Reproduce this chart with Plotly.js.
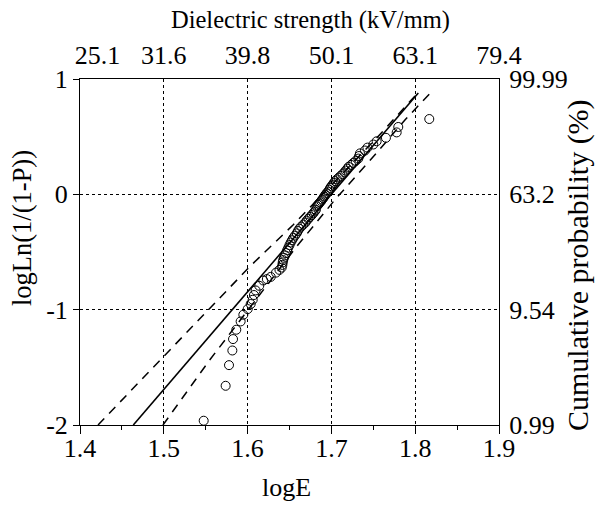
<!DOCTYPE html>
<html>
<head>
<meta charset="utf-8">
<script src="https://cdn.plot.ly/plotly-3.0.1.min.js"></script>
<style>html,body{margin:0;padding:0;background:#fff;}#chart{width:595px;height:505px;}</style>
</head>
<body>
<div id="chart"></div>
<script>
// Measured data points: logE and log ln(1/(1-P))
const pointsLogE = [1.5476,1.5738,1.5778,1.5818,1.5826,1.5865,1.5917,1.5949,1.6001,1.6037,1.6061,1.6076,1.6096,1.6139,1.6187,1.6230,1.6276,1.6339,1.6380,1.6407,1.6415,1.6419,1.6425,1.6434,1.6446,1.6458,1.6472,1.6486,1.6500,1.6514,1.6530,1.6546,1.6565,1.6586,1.6600,1.6617,1.6640,1.6665,1.6690,1.6705,1.6725,1.6745,1.6765,1.6784,1.6800,1.6815,1.6825,1.6840,1.6852,1.6864,1.6878,1.6890,1.6904,1.6915,1.6928,1.6944,1.6960,1.6975,1.6985,1.7000,1.7015,1.7030,1.7045,1.7065,1.7088,1.7110,1.7133,1.7155,1.7170,1.7190,1.7205,1.7235,1.7261,1.7290,1.7321,1.7330,1.7341,1.7400,1.7430,1.7500,1.7540,1.7651,1.7779,1.7798,1.8168];
const pointsLogLn = [-1.963,-1.660,-1.481,-1.354,-1.255,-1.174,-1.102,-1.044,-0.995,-0.951,-0.914,-0.873,-0.833,-0.793,-0.747,-0.735,-0.716,-0.679,-0.655,-0.635,-0.612,-0.590,-0.570,-0.550,-0.530,-0.509,-0.485,-0.462,-0.440,-0.418,-0.398,-0.378,-0.358,-0.338,-0.318,-0.298,-0.280,-0.262,-0.245,-0.228,-0.212,-0.196,-0.180,-0.164,-0.149,-0.134,-0.105,-0.092,-0.081,-0.070,-0.058,-0.045,-0.032,-0.018,-0.004,0.011,0.024,0.040,0.055,0.070,0.085,0.100,0.115,0.130,0.145,0.160,0.175,0.190,0.206,0.222,0.238,0.255,0.272,0.290,0.310,0.332,0.355,0.380,0.405,0.432,0.460,0.490,0.537,0.584,0.653];

// Weibull fit line
const fitLogE = [1.4636, 1.8037];
const fitLogLn = [-2.0, 0.879];

// Confidence bounds (dashed)
const upperLogE = [1.4215, 1.5034, 1.6028, 1.6545, 1.7540, 1.8030];
const upperLogLn = [-2.0, -1.376, -0.625, -0.264, 0.488, 0.879];
const lowerLogE = [1.4990, 1.5550, 1.6586, 1.7042, 1.7520, 1.7880, 1.8175];
const lowerLogLn = [-2.0, -1.434, -0.452, -0.047, 0.343, 0.647, 0.874];

// Tick labels
const bottomTicks = [1.4, 1.5, 1.6, 1.7, 1.8, 1.9];
const topTickPos = [1.421, 1.5, 1.6, 1.7, 1.8, 1.9];
const topTickText = ['25.1', '31.6', '39.8', '50.1', '63.1', '79.4'];
const leftTicks = [-2, -1, 0, 1];
const rightTickText = ['0.99', '9.54', '63.2', '99.99'];

const FONT = "'Liberation Serif', 'Times New Roman', serif";
const fs = 26;

const traces = [
  {x: upperLogE, y: upperLogLn, mode: 'lines', line: {color: '#000', width: 1.5, dash: '9px,7px'}, hoverinfo: 'skip'},
  {x: lowerLogE, y: lowerLogLn, mode: 'lines', line: {color: '#000', width: 1.5, dash: '9px,7px'}, hoverinfo: 'skip'},
  {x: fitLogE, y: fitLogLn, mode: 'lines', line: {color: '#000', width: 1.6}},
  {x: pointsLogE, y: pointsLogLn, mode: 'markers', marker: {symbol: 'circle-open', size: 9, color: '#000', line: {width: 1, color: '#000'}}, cliponaxis: false},
  {x: [1.5], y: [0], xaxis: 'x2', yaxis: 'y2', mode: 'markers', marker: {opacity: 0}, hoverinfo: 'skip'}
];

const L = 80, R = 499, T = 79, B = 425;
const px = v => (v - L) / (R - L);
const py = v => (B - v) / (B - T);

const layout = {
  width: 595, height: 505,
  margin: {l: L, r: 595 - R, t: T, b: 505 - B, pad: 0},
  paper_bgcolor: '#fff', plot_bgcolor: '#fff',
  showlegend: false,
  font: {family: FONT, size: fs, color: '#000'},
  xaxis: {
    range: [1.4, 1.9], tickvals: bottomTicks, ticktext: bottomTicks.map(v => v.toFixed(1)),
    ticks: 'outside', ticklen: 8, tickwidth: 1, tickcolor: '#000',
    minor: {tickvals: [1.45, 1.55, 1.65, 1.75, 1.85], ticks: 'outside', ticklen: 4, tickcolor: '#000', showgrid: false},
    showgrid: true, gridcolor: '#000', griddash: 'dot', gridwidth: 1,
    showline: true, linecolor: '#000', linewidth: 1, zeroline: false,
    tickfont: {family: FONT, size: fs}, automargin: false, ticklabelstandoff: -8
  },
  xaxis2: {
    overlaying: 'x', side: 'top', range: [1.4, 1.9], tickvals: topTickPos, ticktext: topTickText,
    ticks: '', showgrid: false, showline: true, linecolor: '#000', linewidth: 1, zeroline: false,
    tickfont: {family: FONT, size: fs}, automargin: false, ticklabelstandoff: 4
  },
  yaxis: {
    range: [-2, 1], tickvals: leftTicks, ticktext: leftTicks.map(String),
    ticks: 'outside', ticklen: 6, tickwidth: 1, tickcolor: '#000',
    showgrid: true, gridcolor: '#000', griddash: 'dot', gridwidth: 1,
    showline: true, linecolor: '#000', linewidth: 1, zeroline: false,
    tickfont: {family: FONT, size: fs}, automargin: false, ticklabelstandoff: 0
  },
  yaxis2: {
    overlaying: 'y', side: 'right', range: [-2, 1], tickvals: leftTicks, ticktext: rightTickText,
    ticks: '', showgrid: false, showline: true, linecolor: '#000', linewidth: 1, zeroline: false,
    tickfont: {family: FONT, size: fs}, automargin: false, ticklabelstandoff: 4
  },
  annotations: [
    {text: 'logE', xref: 'paper', yref: 'paper', x: px(286), y: py(487), showarrow: false, font: {family: FONT, size: 26}, xanchor: 'center', yanchor: 'middle'},
    {text: 'Dielectric strength (kV/mm)', xref: 'paper', yref: 'paper', x: px(310), y: py(20), showarrow: false, font: {family: FONT, size: 24.5}, xanchor: 'center', yanchor: 'middle'},
    {text: 'logLn(1/(1-P))', xref: 'paper', yref: 'paper', x: px(22), y: py(228), textangle: -90, showarrow: false, font: {family: FONT, size: 26.5}, xanchor: 'center', yanchor: 'middle'},
    {text: 'Cumulative probability (%)', xref: 'paper', yref: 'paper', x: px(578), y: py(265), textangle: -90, showarrow: false, font: {family: FONT, size: 30}, xanchor: 'center', yanchor: 'middle'}
  ]
};

Plotly.newPlot('chart', traces, layout, {staticPlot: true, displayModeBar: false});
</script>
</body>
</html>
